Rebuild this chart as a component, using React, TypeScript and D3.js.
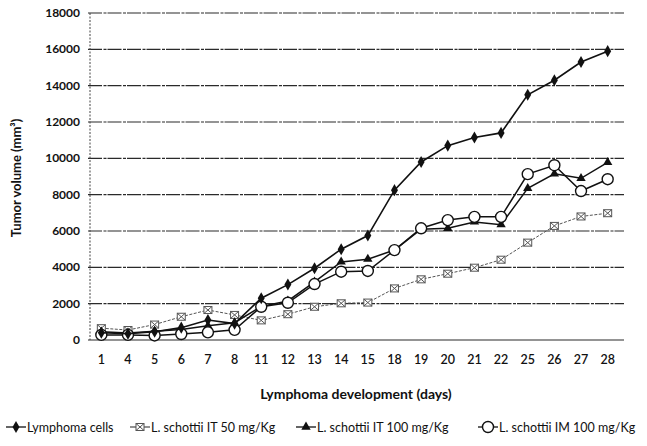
import { useRef, useEffect } from "react";
import * as d3 from "d3";

// days on the x axis (categorical)
const days = ["1", "4", "5", "6", "7", "8", "11", "12", "13", "14", "15", "18", "19", "20", "21", "22", "25", "26", "27", "28"];

const lymphomaCells = [400, 350, 450, 680, 1100, 900, 2300, 3050, 3950, 5000, 5750, 8250, 9800, 10700, 11150, 11400, 13500, 14300, 15300, 15900];
const it50 = [650, 550, 850, 1280, 1650, 1380, 1080, 1420, 1830, 2020, 2060, 2840, 3340, 3650, 3980, 4420, 5360, 6280, 6800, 6980];
const it100 = [450, 380, 480, 580, 780, 950, 1850, 2150, 3200, 4300, 4450, 4950, 6100, 6150, 6500, 6350, 8350, 9150, 8900, 9780];
const im100 = [280, 280, 250, 330, 420, 560, 1830, 2050, 3080, 3760, 3800, 4950, 6150, 6600, 6780, 6780, 9130, 9620, 8200, 8850];

const yTicks = [0, 2000, 4000, 6000, 8000, 10000, 12000, 14000, 16000, 18000];

const seriesNames = ["Lymphoma cells", "L. schottii IT 50 mg/Kg", "L. schottii IT 100 mg/Kg", "L. schottii IM 100 mg/Kg"];

const FONT = "Lato, 'Open Sans', sans-serif";

function drawMarker(g, type, x, y) {
  if (type === "diamond") {
    g.append("path")
      .attr("d", d3.symbol(d3.symbolDiamond, 42)())
      .attr("transform", `translate(${x},${y})`)
      .attr("fill", "#111");
  } else if (type === "cross") {
    // little square with an x through it
    g.append("rect")
      .attr("x", x - 4).attr("y", y - 3.5)
      .attr("width", 8).attr("height", 7)
      .attr("fill", "#fff").attr("stroke", "#555").attr("stroke-width", 1);
    g.append("path")
      .attr("d", `M${x - 4},${y - 3.5}L${x + 4},${y + 3.5}M${x + 4},${y - 3.5}L${x - 4},${y + 3.5}`)
      .attr("stroke", "#555").attr("stroke-width", 1);
  } else if (type === "triangle") {
    g.append("path")
      .attr("d", d3.symbol(d3.symbolTriangle, 38)())
      .attr("transform", `translate(${x},${y})`)
      .attr("fill", "#111");
  } else if (type === "circle") {
    g.append("circle")
      .attr("cx", x).attr("cy", y).attr("r", 5.5)
      .attr("fill", "#fff").attr("stroke", "#111").attr("stroke-width", 1.4);
  }
}

function App() {
  const ref = useRef(null);

  useEffect(() => {
    const svg = d3.select(ref.current);
    svg.selectAll("*").remove();

    const xScale = d3.scaleBand().domain(days).range([88, 621]);
    const yScale = d3.scaleLinear().domain([0, 18000]).range([340, 13]);
    const cx = (d) => xScale(d) + xScale.bandwidth() / 2;

    // horizontal grid lines
    svg.append("g")
      .selectAll("line")
      .data(yTicks)
      .join("line")
      .attr("x1", 88).attr("x2", 624)
      .attr("y1", (d) => yScale(d)).attr("y2", (d) => yScale(d))
      .attr("stroke", "#2a2a2a")
      .attr("stroke-width", 1.1)
      .attr("stroke-dasharray", (d) => (d === 0 ? null : "14,1.5,3,1"));

    // left axis (dotted)
    svg.append("line")
      .attr("x1", 90).attr("x2", 90)
      .attr("y1", yScale(18000)).attr("y2", yScale(0))
      .attr("stroke", "#444")
      .attr("stroke-dasharray", "2,1.5");

    // y tick labels
    svg.append("g")
      .selectAll("text")
      .data(yTicks)
      .join("text")
      .attr("x", 80)
      .attr("y", (d) => yScale(d) + 4)
      .attr("text-anchor", "end")
      .attr("font-family", FONT)
      .attr("font-size", 12)
      .attr("font-weight", 700)
      .attr("fill", "#111")
      .text((d) => d);

    // x tick labels
    svg.append("g")
      .selectAll("text")
      .data(days)
      .join("text")
      .attr("x", (d) => cx(d))
      .attr("y", 364)
      .attr("text-anchor", "middle")
      .attr("font-family", FONT)
      .attr("font-size", 12.5)
      .attr("font-weight", 600)
      .attr("fill", "#111")
      .text((d) => d);

    // axis titles
    svg.append("text")
      .attr("transform", "translate(21,178) rotate(-90)")
      .attr("text-anchor", "middle")
      .attr("font-family", FONT)
      .attr("font-size", 13)
      .attr("font-weight", 700)
      .attr("fill", "#111")
      .text("Tumor volume (mm³)");

    svg.append("text")
      .attr("x", 356).attr("y", 399)
      .attr("text-anchor", "middle")
      .attr("font-family", FONT)
      .attr("font-size", 14)
      .attr("font-weight", 700)
      .attr("fill", "#111")
      .text("Lymphoma development (days)");

    const series = [
      { values: it50, marker: "cross", color: "#555", width: 1, dash: "3,1.5" },
      { values: it100, marker: "triangle", color: "#111", width: 1.5, dash: null },
      { values: im100, marker: "circle", color: "#111", width: 1.5, dash: null },
      { values: lymphomaCells, marker: "diamond", color: "#111", width: 1.6, dash: null },
    ];

    const line = d3.line().x((d, i) => cx(days[i])).y((d) => yScale(d));

    series.forEach((s) => {
      svg.append("path")
        .datum(s.values)
        .attr("d", line)
        .attr("fill", "none")
        .attr("stroke", s.color)
        .attr("stroke-width", s.width)
        .attr("stroke-dasharray", s.dash);
      const g = svg.append("g");
      s.values.forEach((v, i) => drawMarker(g, s.marker, cx(days[i]), yScale(v)));
    });

    // legend along the bottom
    const legendItems = [
      { name: seriesNames[0], marker: "diamond", x: 6, color: "#111" },
      { name: seriesNames[1], marker: "cross", x: 130, color: "#555" },
      { name: seriesNames[2], marker: "triangle", x: 296, color: "#111" },
      { name: seriesNames[3], marker: "circle", x: 478, color: "#111" },
    ];
    const ly = 427;
    legendItems.forEach((it) => {
      const g = svg.append("g");
      g.append("line")
        .attr("x1", it.x).attr("x2", it.x + 20)
        .attr("y1", ly).attr("y2", ly)
        .attr("stroke", it.color).attr("stroke-width", 1.3);
      drawMarker(g, it.marker, it.x + 10, ly);
      g.append("text")
        .attr("x", it.x + 21).attr("y", ly + 4.5)
        .attr("font-family", FONT)
        .attr("font-size", 12.5)
        .attr("fill", "#111")
        .text(it.name);
    });
  }, []);

  return (
    <svg
      ref={ref}
      width={647}
      height={446}
      style={{ position: "absolute", left: 0, top: 0, background: "#fff" }}
    ></svg>
  );
}

export default App;
